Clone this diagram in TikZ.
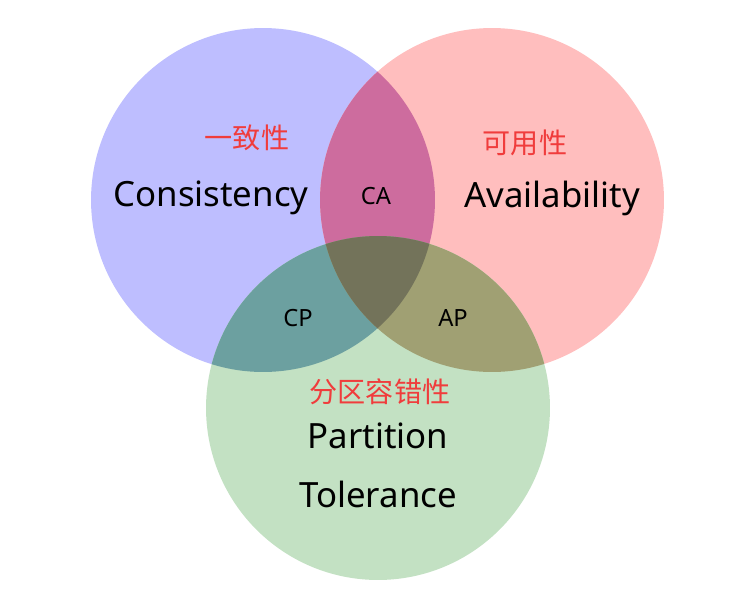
\documentclass[tikz,border=0pt]{standalone}
\usepackage{fontspec}
\setmainfont{Noto Sans}
\newfontfamily\cjk{Noto Sans CJK SC}
\usepackage{xcolor}
\definecolor{capblue}{RGB}{190,190,255}
\definecolor{cappink}{RGB}{255,190,190}
\definecolor{capgreen}{RGB}{195,225,195}
\definecolor{capca}{RGB}{205,108,158}
\definecolor{capcp}{RGB}{108,160,160}
\definecolor{capap}{RGB}{160,160,115}
\definecolor{capmid}{RGB}{115,115,90}
\definecolor{capred}{RGB}{240,60,60}
\usetikzlibrary{positioning}

\tikzset{
  bigword/.style={font=\fontsize{19.8}{23}\selectfont, text=black, inner sep=1pt},
  cnword/.style={font=\cjk\fontsize{16}{18}\selectfont, text=capred, inner sep=1pt},
  pairword/.style={font=\fontsize{13.5}{15}\selectfont, text=black, inner sep=1pt}
}

\begin{document}
\begin{tikzpicture}[x=0.02cm, y=-0.02cm]
\useasboundingbox (0,0) rectangle (756,608);

% ===== CIRCLES =====
\coordinate (cc) at (263,200);
\coordinate (ac) at (492,200);
\coordinate (pc) at (378,408);
\fill[capblue] (cc) circle [radius=3.44cm];
\fill[cappink] (ac) circle [radius=3.44cm];
\fill[capgreen] (pc) circle [radius=3.44cm];

% ===== OVERLAPS =====
\begin{scope}
  \clip (cc) circle [radius=3.44cm];
  \fill[capca] (ac) circle [radius=3.44cm];
  \fill[capcp] (pc) circle [radius=3.44cm];
\end{scope}
\begin{scope}
  \clip (ac) circle [radius=3.44cm];
  \fill[capap] (pc) circle [radius=3.44cm];
  \clip (cc) circle [radius=3.44cm];
  \fill[capmid] (pc) circle [radius=3.44cm];
\end{scope}

% ===== LABELS =====
\node[cnword] (cn1) at (247,138) {一致性};
\node[bigword] (cons) at (211,198) {Consistency};
\node[cnword] (cn2) at (525,143) {可用性};
\node[bigword] (avail) at (552,198) {Availability};
\node[cnword] (cn3) at (380,392) {分区容错性};
\node[bigword] (part) at (378,436) {Partition};
\node[bigword] (tol) at (378,494) {Tolerance};

\node[pairword] (ca) at (376,196) {CA};
\node[pairword] (cp) at (298,318) {CP};
\node[pairword] (ap) at (453,318) {AP};

\end{tikzpicture}
\end{document}
